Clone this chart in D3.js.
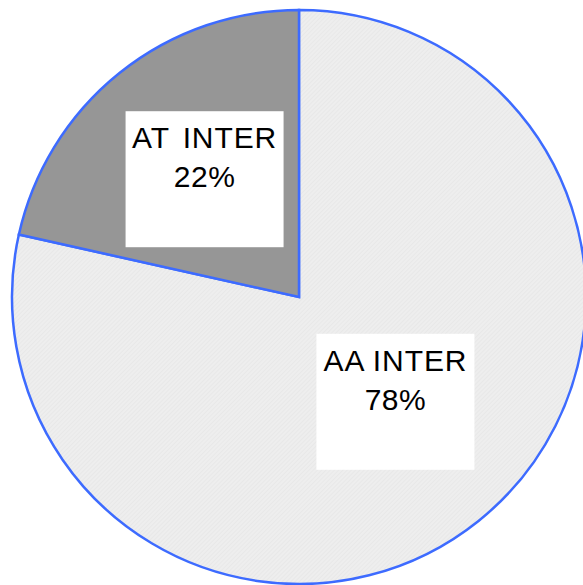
<!DOCTYPE html>
<html>
<head>
<meta charset="utf-8">
<script src="https://cdn.jsdelivr.net/npm/d3@7"></script>
<style>
  html, body { margin: 0; padding: 0; background: #fff; }
  svg { display: block; }
</style>
</head>
<body>
<div id="chart"></div>
<script>
const width = 583;
const height = 585;

const categories = ['AA INTER', 'AT INTER'];
const values = [78.49, 21.51];
const colors = ['url(#hatch)', '#969696'];

const cx = 299, cy = 297, radius = 287;

const svg = d3.select('#chart').append('svg')
  .attr('width', width)
  .attr('height', height);

// fine light hatch for the big slice
const defs = svg.append('defs');
const pat = defs.append('pattern')
  .attr('id', 'hatch')
  .attr('patternUnits', 'userSpaceOnUse')
  .attr('width', 3)
  .attr('height', 3)
  .attr('patternTransform', 'rotate(45)');
pat.append('rect').attr('width', 3).attr('height', 3).attr('fill', '#eeeeee');
pat.append('line')
  .attr('x1', 0).attr('y1', 0).attr('x2', 0).attr('y2', 3)
  .attr('stroke', '#e2e2e2').attr('stroke-width', 1);

const pie = d3.pie().sort(null).value((d) => d.value);
const data = pie(categories.map((c, i) => ({ name: c, value: values[i], color: colors[i] })));

const arc = d3.arc().innerRadius(0).outerRadius(radius);
const labelArc = d3.arc().innerRadius(radius * 0.526).outerRadius(radius * 0.526);

const g = svg.append('g').attr('transform', `translate(${cx},${cy})`);

g.selectAll('path.slice')
  .data(data)
  .enter()
  .append('path')
  .attr('class', 'slice')
  .attr('d', arc)
  .attr('fill', (d) => d.data.color)
  .attr('stroke', '#3d6bff')
  .attr('stroke-width', 2.5)
  .attr('stroke-linejoin', 'miter');

// data labels in white boxes
const total = d3.sum(values);
const boxW = 158, boxH = 136;
const nudge = [[2, -13], [0, 0]];

const lab = g.selectAll('g.label')
  .data(data)
  .enter()
  .append('g')
  .attr('class', 'label')
  .attr('transform', (d, i) => {
    const [x, y] = labelArc.centroid(d);
    return `translate(${x + nudge[i][0]},${y + nudge[i][1]})`;
  });

lab.append('rect')
  .attr('x', -boxW / 2)
  .attr('y', -boxH / 2)
  .attr('width', boxW)
  .attr('height', boxH)
  .attr('fill', '#fff');

lab.append('text')
  .attr('text-anchor', 'middle')
  .attr('y', -boxH / 2 + 37)
  .style('font-family', 'Liberation Sans, Arial, sans-serif')
  .style('font-size', '30px')
  .style('letter-spacing', '0.9px')
  .style('word-spacing', (d, i) => (i === 1 ? '4px' : '0px'))
  .attr('fill', '#000')
  .text((d) => d.data.name);

lab.append('text')
  .attr('text-anchor', 'middle')
  .attr('y', -boxH / 2 + 76)
  .style('font-family', 'Liberation Sans, Arial, sans-serif')
  .style('font-size', '30px')
  .style('letter-spacing', '0.5px')
  .attr('fill', '#000')
  .text((d) => Math.round((d.data.value / total) * 100) + '%');
</script>
</body>
</html>
